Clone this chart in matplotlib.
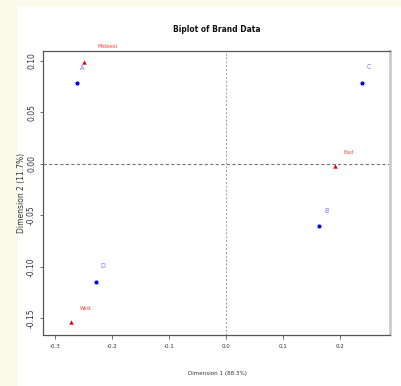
import matplotlib
matplotlib.use("Agg")
import matplotlib.pyplot as plt
from matplotlib.patches import Rectangle

# Data
brand_labels = ["A", "B", "C", "D"]
brand_x = [-0.261, 0.164, 0.2386, -0.2275]
brand_y = [0.0783, -0.0605, 0.0783, -0.1143]

region_labels = ["Midwest", "East", "West"]
region_x = [-0.248, 0.1918, -0.2714]
region_y = [0.0993, -0.0020, -0.1540]

xticks = [-0.3, -0.2, -0.1, 0.0, 0.1, 0.2]
xtick_labels = ["-0.3", "-0.2", "-0.1", "0.0", "0.1", "0.2"]
yticks = [-0.15, -0.10, -0.05, 0.00, 0.05, 0.10]
ytick_labels = ["-0.15", "-0.10", "-0.05", "0.00", "0.05", "0.10"]

title = "Biplot of Brand Data"
xlabel = "Dimension 1 (88.3%)"
ylabel = "Dimension 2 (11.7%)"

# label offsets in points (layout only)
brand_offsets = [(4, 11), (5, 11), (5, 12), (5, 11)]
region_offsets = [(17, 11), (10, 10), (11, 10)]

narrow = dict(family=["Liberation Sans Narrow", "DejaVu Sans"], stretch="condensed")

W, H = 402, 386
fig = plt.figure(figsize=(W / 100, H / 100), dpi=100, facecolor="#fafbea")
bg = Rectangle((18 / W, 0), 1 - 18 / W, 1 - 6 / H,
               transform=fig.transFigure, facecolor="white",
               edgecolor="none", zorder=-10)
fig.patches.append(bg)

ax = fig.add_axes([43 / W, 1 - 334.5 / H, (390 - 43) / W, (334.5 - 51) / H])
ax.set_zorder(5)
ax.set_facecolor("white")
ax.set_xlim(-0.3205, 0.288)
ax.set_ylim(-0.1657, 0.1097)

ax.axvline(0, color="#999999", linestyle=(0, (2, 2)), linewidth=0.7, zorder=1)
ax.axhline(0, color="#777777", linestyle=(0, (3, 2)), linewidth=0.8, zorder=1)

ax.scatter(brand_x, brand_y, marker="o", s=9, color="#0000ee", zorder=3, linewidths=0)
ax.scatter(region_x, region_y, marker="^", s=10, color="#ee0000", zorder=3, linewidths=0)

for lab, x, y, off in zip(brand_labels, brand_x, brand_y, brand_offsets):
    ax.annotate(lab, (x, y), xytext=off, textcoords="offset points",
                ha="center", va="center", fontsize=5, color="#7070ff", **narrow)
for lab, x, y, off in zip(region_labels, region_x, region_y, region_offsets):
    ax.annotate(lab, (x, y), xytext=off, textcoords="offset points",
                ha="center", va="center", fontsize=4, color="#ff4040", **narrow)

ax.set_xticks(xticks)
ax.set_xticklabels(xtick_labels, fontsize=4.5, color="#333333", **narrow)
ax.set_yticks(yticks)
ax.set_yticklabels(ytick_labels, fontsize=5.5, rotation=90, va="center",
                   color="#333333")
ax.tick_params(axis="x", length=3, width=0.6, color="#555555", pad=4)
ax.tick_params(axis="y", length=2.5, width=0.6, color="#555555", pad=2.5)

for side in ["left", "bottom", "top"]:
    ax.spines[side].set_color("#555555")
    ax.spines[side].set_linewidth(0.9)
ax.spines["right"].set_color("#cccccc")
ax.spines["right"].set_linewidth(2.0)

fig.text(217 / W, 1 - 29 / H, title, ha="center", va="center", fontsize=6,
         fontweight="bold", color="#111111", **narrow)
fig.text(217 / W, 1 - 374 / H, xlabel, ha="center", va="center", fontsize=4.5,
         color="#333333", **narrow)
fig.text(22 / W, 1 - 193 / H, ylabel, ha="center", va="center", fontsize=5.5,
         rotation=90, color="#333333")

fig.savefig("out.png", dpi=100, facecolor=fig.get_facecolor())
